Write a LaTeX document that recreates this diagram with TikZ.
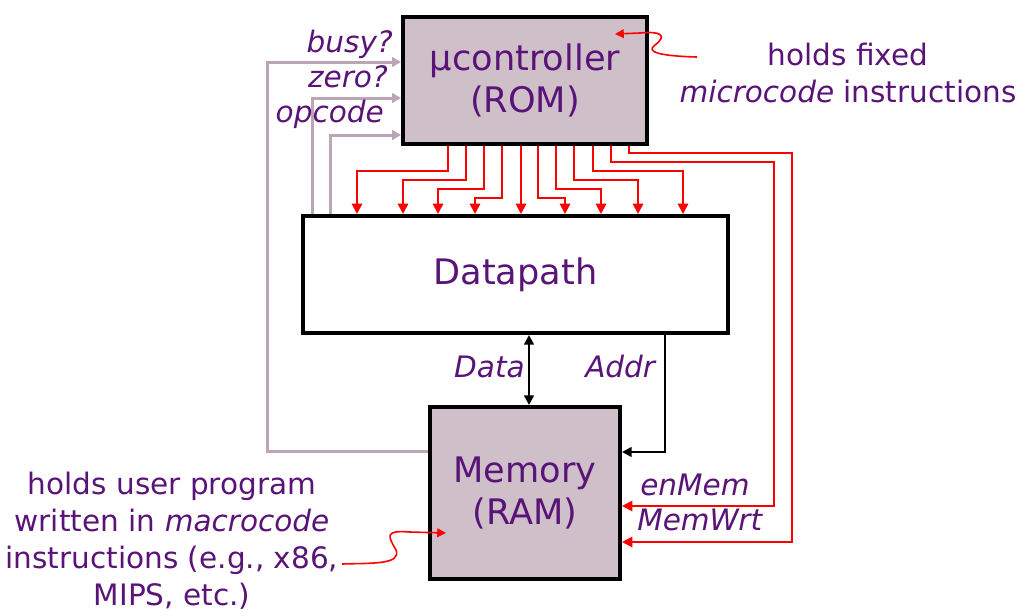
\documentclass[tikz,border=0pt]{standalone}
\usepackage{fontspec}
\setmainfont{DejaVu Sans}
\usetikzlibrary{arrows.meta}

\definecolor{txtpurple}{RGB}{90,20,120}
\definecolor{mauve}{RGB}{207,191,201}
\definecolor{mauveline}{RGB}{188,165,180}

\tikzset{
	box/.style={draw=black, line width=1mm, inner sep=0pt, text=txtpurple, align=center,
		font=\fontsize{25}{30.5}\selectfont},
	ctl/.style={draw=red, line width=0.5mm, -{Triangle[length=2.6mm,width=2.6mm]}},
	stat/.style={draw=mauveline, line width=0.75mm, -{Triangle[length=2.2mm,width=2.4mm]}},
	bus/.style={draw=black, line width=0.65mm},
	bustip/.tip={Triangle[length=2.4mm,width=2.4mm]},
	squig/.style={draw=red, line width=0.4mm, -{Triangle[length=2.2mm,width=2.2mm]}},
	lbl/.style={text=txtpurple, inner sep=0pt, font=\fontsize{21}{26}\selectfont\itshape},
	note/.style={text=txtpurple, inner sep=0pt, align=center, font=\fontsize{21}{26.3}\selectfont}
}

\begin{document}
\begin{tikzpicture}[x=0.25mm, y=-0.25mm]
			\useasboundingbox (0,0) rectangle (1028,615);
			
			% boxes
			\node[box, fill=mauve, minimum width=61mm, minimum height=31.75mm] (rom) at (525,80.5) {μcontroller\\(ROM)};
			\node[box, fill=white, minimum width=106.25mm, minimum height=29.25mm] (dp) at (515.5,274.5) {Datapath};
			\node[box, fill=mauve, minimum width=47.5mm, minimum height=43mm] (mem) at (525,493) {Memory\\(RAM)};
			
			% control lines
			\foreach \x/\y/\t in {448/171/357, 466/180/403, 484/189/438, 502/198/475, 521/185/521,
				538/198/565, 556/189/601, 574/180/638, 593/171/683}
				\draw[ctl] (\x,0 |- rom.south) |- (\t,\y) -- (\t,0 |- dp.north);
			\draw[ctl] (611,0 |- rom.south) |- (774,162) |- (mem.east |- 0,506);
			\draw[ctl] (629,0 |- rom.south) |- (792,153) |- (mem.east |- 0,542);
			
			% status lines
			\draw[stat] (mem.west |- 0,451) -| (267,62) -- (rom.west |- 0,62);
			\draw[stat] (312,0 |- dp.north) |- (rom.west |- 0,98);
			\draw[stat] (330,0 |- dp.north) |- (rom.west |- 0,135);
			
			% memory bus
			\draw[bus, bustip-bustip] (529,0 |- dp.south) -- (529,0 |- mem.north);
			\draw[bus, -bustip] (665,0 |- dp.south) |- (mem.east |- 0,452);
			
			% labels
			\node[lbl, anchor=base east] (busy) at (393,52) {busy?};
			\node[lbl, anchor=base east] (zero) at (388,87) {zero?};
			\node[lbl, anchor=base east] (opc) at (384,122) {opcode};
			\node[lbl, anchor=base east] (data) at (525,377) {Data};
			\node[lbl, anchor=base west] (addr) at (585,377) {Addr};
			\node[lbl, anchor=base west] (enmem) at (640,495) {enMem};
			\node[lbl, anchor=base west] (memwrt) at (637,530) {MemWrt};
			
			% notes
			\node[note] (romnote) at (848,73) {holds fixed\\\textit{microcode} instructions};
			\node[note] (memnote) at (172,541) {holds user program\\written in \textit{macrocode}\\instructions (e.g., x86,\\MIPS, etc.)};
			
			\coordinate (romfrom) at (697,57);
			\coordinate (romto) at (615,34);
			\coordinate (memfrom) at (342,564);
			\coordinate (memto) at (446,533);
			\draw[squig] (romfrom) .. controls (660,56) and (645,52) .. (655,45) .. controls (668,35) and (660,31) .. (640,33) -- (romto);
			\draw[squig] (memfrom) .. controls (370,563) and (402,565) .. (396,550) .. controls (388,536) and (384,530) .. (410,532) -- (memto);
		\end{tikzpicture}
\end{document}
